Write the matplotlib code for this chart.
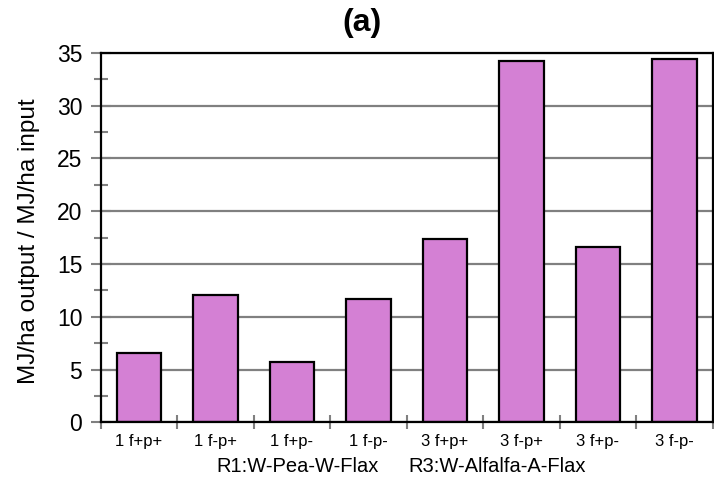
import matplotlib.pyplot as plt
from matplotlib.ticker import MultipleLocator, FixedLocator

# data
categories = ["1 f+p+", "1 f-p+", "1 f+p-", "1 f-p-",
              "3 f+p+", "3 f-p+", "3 f+p-", "3 f-p-"]
values = [6.6, 12.1, 5.7, 11.7, 17.4, 34.2, 16.6, 34.4]
groups = ["R1:W-Pea-W-Flax", "R3:W-Alfalfa-A-Flax"]

BAR = "#D480D4"
GRID = "#808080"

plt.rcParams["font.family"] = ["Liberation Sans", "DejaVu Sans"]

fig = plt.figure(figsize=(7.14, 4.82), dpi=100)
ax = fig.add_axes([0.141, 0.1235, 0.857, 0.767])

x = list(range(len(categories)))
ax.bar(x, values, width=0.58, color=BAR, edgecolor="black", linewidth=1.6, zorder=3)

ax.set_xlim(-0.5, len(categories) - 0.5)
ax.set_ylim(0, 35)

# y axis: major every 5 with grid, minor in between
ax.yaxis.set_major_locator(MultipleLocator(5))
ax.yaxis.set_minor_locator(MultipleLocator(2.5))
ax.grid(axis="y", which="major", color=GRID, lw=1.6, zorder=0)
ax.tick_params(axis="y", which="major", direction="inout", length=14.4, width=1.5,
               color=GRID, labelsize=16.5, pad=6)
ax.tick_params(axis="y", which="minor", direction="inout", length=9.6, width=1.5, color=GRID)

# x axis: tick marks between categories, labels at category centres
ax.xaxis.set_major_locator(FixedLocator([i - 0.5 for i in range(len(categories) + 1)]))
ax.xaxis.set_minor_locator(FixedLocator(x))
ax.set_xticklabels([], minor=False)
ax.set_xticklabels(categories, minor=True)
ax.tick_params(axis="x", which="major", direction="inout", length=9.6, width=1.5, color=GRID)
ax.tick_params(axis="x", which="minor", length=0, labelsize=12, pad=8)

for s in ax.spines.values():
    s.set_linewidth(1.6)
    s.set_color("black")
    s.set_zorder(4)

# group captions under the category labels
ax.text(2.08, -0.118, groups[0], transform=ax.get_xaxis_transform(),
        ha="center", va="center", fontsize=14.5)
ax.text(4.68, -0.118, groups[1], transform=ax.get_xaxis_transform(),
        ha="center", va="center", fontsize=14.5)

fig.text(0.04, 0.5, "MJ/ha output / MJ/ha input", rotation=90,
         ha="center", va="center", fontsize=17.5)
fig.text(0.507, 0.952, "(a)", ha="center", va="center", fontsize=23, fontweight="bold")

fig.savefig("out.png", dpi=100)
